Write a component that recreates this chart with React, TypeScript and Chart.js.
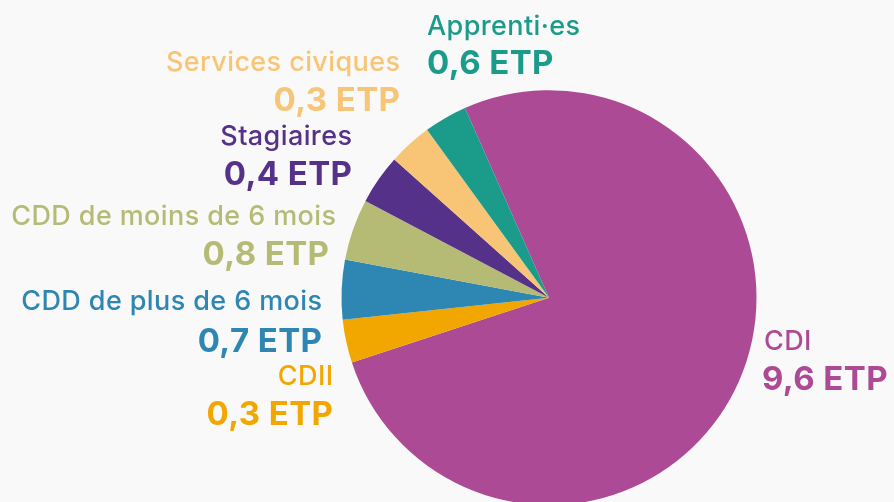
import React, { useEffect, useRef } from "react";
import { Chart, registerables } from "chart.js";

Chart.register(...registerables);

// Categories (clockwise from the CDI slice)
const categories = [
  "CDI",
  "CDII",
  "CDD de plus de 6 mois",
  "CDD de moins de 6 mois",
  "Stagiaires",
  "Services civiques",
  "Apprenti·es",
];
// Displayed values (ETP)
const etpLabels = ["9,6 ETP", "0,3 ETP", "0,7 ETP", "0,8 ETP", "0,4 ETP", "0,3 ETP", "0,6 ETP"];
// Slice shares (percent of the circle)
const sliceShares = [76.6, 3.36, 4.64, 4.78, 3.89, 3.39, 3.36];
const colors = ["#ad4a96", "#f2a600", "#2e86b2", "#b5bb75", "#563189", "#f8c577", "#1b9b8a"];

// Label placement (layout only)
const labelLayout = [
  { x: 764, vx: 762, y1: 350, y2: 390, align: "left" },
  { x: 333, vx: 333, y1: 385, y2: 425, align: "right" },
  { x: 322, vx: 322, y1: 310, y2: 352, align: "right" },
  { x: 336, vx: 329, y1: 225, y2: 265, align: "right" },
  { x: 352, vx: 352, y1: 145, y2: 185, align: "right" },
  { x: 400, vx: 400, y1: 71, y2: 111, align: "right" },
  { x: 427, vx: 427, y1: 35, y2: 74, align: "left" },
];

const FONT = "Inter, 'Open Sans', sans-serif";

const labelPlugin = {
  id: "sliceLabels",
  afterDraw(chart: any) {
    const ctx = chart.ctx;
    ctx.save();
    ctx.textBaseline = "alphabetic";
    categories.forEach((name, i) => {
      const l = labelLayout[i];
      const right = l.align === "right";
      ctx.fillStyle = colors[i];
      ctx.textAlign = l.align;
      ctx.font = `500 27px ${FONT}`;
      ctx.letterSpacing = "0.4px";
      ctx.fillText(name, l.x + (right ? 0.4 : 0), l.y1);
      ctx.font = `bold 33px ${FONT}`;
      ctx.letterSpacing = "0.4px";
      ctx.fillText(etpLabels[i], l.vx + (right ? 0.4 : 0), l.y2);
    });
    ctx.restore();
  },
};

export default function App() {
  const ref = useRef<HTMLCanvasElement>(null);
  useEffect(() => {
    if (!ref.current) return;
    const chart = new Chart(ref.current, {
      type: "pie",
      data: {
        labels: categories,
        datasets: [
          {
            data: sliceShares,
            backgroundColor: colors,
            borderWidth: 0,
          },
        ],
      },
      options: {
        responsive: false,
        animation: false,
        devicePixelRatio: 1,
        rotation: -23.9,
        layout: { padding: { left: 341.5, right: 137.5, top: 90.2, bottom: 34.8 } },
        plugins: {
          legend: { display: false },
          tooltip: { enabled: false },
        },
      },
      plugins: [labelPlugin],
    });
    return () => chart.destroy();
  }, []);
  return (
    <div
      style={{
        position: "absolute",
        left: 0,
        top: 0,
        width: 894,
        height: 502,
        overflow: "hidden",
        background: "#f9f9f9",
      }}
    >
      <canvas ref={ref} width={894} height={540} style={{ display: "block" }} />
    </div>
  );
}
